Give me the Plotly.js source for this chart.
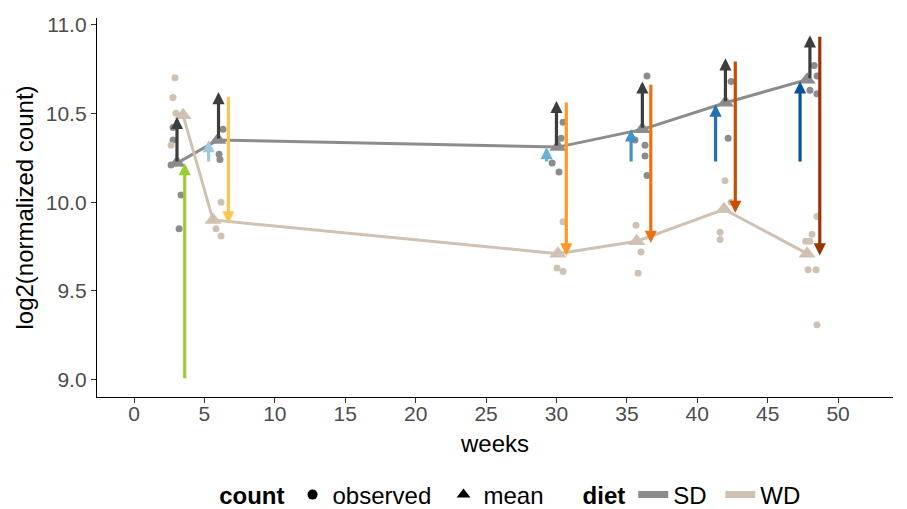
<!DOCTYPE html>
<html><head><meta charset="utf-8">
<script src="https://cdn.plot.ly/plotly-3.0.1.min.js"></script>
<style>html,body{margin:0;padding:0;background:#fff}#chart{width:907px;height:509px}</style>
</head><body><div id="chart"></div>
<script>
// ---- data ----
const sdMeanWeek = [3.05, 5.96, 30.1, 36.1, 42.0, 47.8];
const sdMeanVal  = [10.22, 10.35, 10.31, 10.41, 10.56, 10.69];
const wdMeanWeek = [3.48, 5.61, 30.1, 35.7, 41.9, 47.8];
const wdMeanVal  = [10.49, 9.90, 9.71, 9.78, 9.96, 9.71];

const sdObsWeek = [2.63, 2.77, 2.77, 3.34, 3.2, 6.32, 6.04, 6.1, 30.47, 30.33, 29.69, 30.18, 36.43, 35.58, 36.29, 36.29, 36.43, 42.4, 42.19, 48.3, 48.5, 48.0, 48.5];
const sdObsVal  = [10.21, 10.42, 10.35, 10.04, 9.85, 10.41, 10.27, 10.24, 10.45, 10.36, 10.22, 10.17, 10.71, 10.35, 10.32, 10.26, 10.15, 10.68, 10.36, 10.77, 10.71, 10.63, 10.61];
const wdObsWeek = [2.91, 2.77, 2.98, 2.63, 6.18, 5.82, 6.18, 30.47, 30.04, 30.47, 35.65, 36.0, 35.8, 41.97, 42.4, 41.62, 41.62, 48.5, 48.15, 47.7, 48.0, 47.87, 48.44, 48.5];
const wdObsVal  = [10.70, 10.59, 10.50, 10.32, 10.0, 9.85, 9.81, 9.89, 9.63, 9.61, 9.87, 9.72, 9.60, 10.12, 10.0, 9.83, 9.79, 9.92, 9.82, 9.78, 9.78, 9.62, 9.62, 9.31];

// dark arrows (SD increase)
const darkArrowWeek = [3.05, 6.0, 30.0, 36.1, 42.0, 48.0];
const darkArrowFrom = [10.22, 10.35, 10.31, 10.41, 10.56, 10.69];
const darkArrowTo   = [10.48, 10.62, 10.57, 10.68, 10.81, 10.94];
// baseline arrow
const baseArrowWeek = [3.6];
const baseArrowFrom = [9.0];
const baseArrowTo   = [10.22];
// blue arrows (from baseline SD mean)
const upArrowWeek = [5.3, 29.3, 35.3, 41.3, 47.3];
const upArrowFrom = [10.22, 10.22, 10.22, 10.22, 10.22];
const upArrowTo   = [10.35, 10.31, 10.41, 10.55, 10.68];
// orange arrows (down to WD mean)
const downArrowWeek = [6.7, 30.7, 36.7, 42.7, 48.7];
const downArrowFrom = [10.60, 10.57, 10.67, 10.80, 10.94];
const downArrowTo   = [9.88, 9.70, 9.77, 9.94, 9.70];

const xTickVals = [0, 5, 10, 15, 20, 25, 30, 35, 40, 45, 50];
const yTickVals = [9.0, 9.5, 10.0, 10.5, 11.0];
const yTickText = ['9.0', '9.5', '10.0', '10.5', '11.0'];

// ---- styles ----
const SD_COL = '#8c8c8c';
const WD_COL = '#cfc2b2';
const DARK_COL = '#3d3d3d';
const GREEN_COL = '#9acd32';
const BLUES = ['#9ecae1', '#6baed6', '#4292c6', '#2171b5', '#08519c'];
const ORANGES = ['#fec44f', '#fe9929', '#ec7014', '#cc4c02', '#993404'];
const FONT = 'Liberation Sans, Arial, sans-serif';

const traces = [
  {x: sdMeanWeek, y: sdMeanVal, mode: 'lines+markers', line: {color: SD_COL, width: 3},
   marker: {symbol: 'triangle-up', size: 15, color: SD_COL}, showlegend: false, hoverinfo: 'skip'},
  {x: wdMeanWeek, y: wdMeanVal, mode: 'lines+markers', line: {color: WD_COL, width: 3},
   marker: {symbol: 'triangle-up', size: 15, color: WD_COL}, showlegend: false, hoverinfo: 'skip'},
  {x: sdObsWeek, y: sdObsVal, mode: 'markers', marker: {size: 7, color: SD_COL}, showlegend: false},
  {x: wdObsWeek, y: wdObsVal, mode: 'markers', marker: {size: 7, color: WD_COL}, showlegend: false},
  // legend entries
  {x: [null], y: [null], mode: 'markers', name: 'observed', legend: 'legend',
   marker: {symbol: 'circle', size: 10, color: '#000'}},
  {x: [null], y: [null], mode: 'markers', name: 'mean', legend: 'legend',
   marker: {symbol: 'triangle-up', size: 12, color: '#000'}},
  {x: [null], y: [null], mode: 'lines', name: 'SD', legend: 'legend2',
   line: {color: SD_COL, width: 7}},
  {x: [null], y: [null], mode: 'lines', name: 'WD', legend: 'legend2',
   line: {color: WD_COL, width: 7}}
];

const annotations = [];
function addArrows(xs, from, to, colors) {
  for (let i = 0; i < xs.length; i++) {
    annotations.push({
      x: xs[i], y: to[i], ax: xs[i], ay: from[i], xref: 'x', yref: 'y', axref: 'x', ayref: 'y',
      text: '', showarrow: true, arrowhead: 2, arrowsize: 0.76, arrowwidth: 3.2,
      arrowcolor: Array.isArray(colors) ? colors[i] : colors, standoff: 0, startstandoff: 0
    });
  }
}
addArrows(darkArrowWeek, darkArrowFrom, darkArrowTo, DARK_COL);
addArrows(baseArrowWeek, baseArrowFrom, baseArrowTo, GREEN_COL);
addArrows(upArrowWeek, upArrowFrom, upArrowTo, BLUES);
addArrows(downArrowWeek, downArrowFrom, downArrowTo, ORANGES);

const layout = {
  width: 907, height: 509,
  margin: {l: 97, r: 14, t: 18, b: 112, autoexpand: false},
  paper_bgcolor: '#fff', plot_bgcolor: '#fff',
  font: {family: FONT, color: '#000'},
  xaxis: {
    range: [-2.63, 53.9], tickvals: xTickVals, ticks: 'outside', ticklen: 5, tickwidth: 1, tickcolor: '#333',
    showline: true, linecolor: '#000', linewidth: 1.2, showgrid: false, zeroline: false,
    tickfont: {size: 21, color: '#4d4d4d'}, automargin: false, ticklabelstandoff: -7,
    title: {text: 'weeks', font: {size: 24, color: '#000'}, standoff: 10}
  },
  yaxis: {
    range: [8.903, 11.037], tickvals: yTickVals, ticktext: yTickText, ticks: 'outside', ticklen: 5, tickwidth: 1, tickcolor: '#333',
    showline: true, linecolor: '#000', linewidth: 1.2, showgrid: false, zeroline: false,
    tickfont: {size: 21, color: '#4d4d4d'}, automargin: false,
    title: {text: 'log2(normalized count)', font: {size: 24, color: '#000'}, standoff: 5}
  },
  legend: {
    orientation: 'h', x: 0.151, y: -0.318, xanchor: 'left', yanchor: 'bottom',
    title: {text: '<b>count</b>', side: 'left', font: {size: 24}},
    font: {size: 24}, bgcolor: 'rgba(0,0,0,0)', entrywidth: 106
  },
  legend2: {
    orientation: 'h', x: 0.6075, y: -0.318, xanchor: 'left', yanchor: 'bottom',
    title: {text: '<b>diet</b>', side: 'left', font: {size: 24}},
    font: {size: 24}, bgcolor: 'rgba(0,0,0,0)', entrywidth: 42
  },
  annotations: annotations,
  showlegend: true
};

Plotly.newPlot('chart', traces, layout, {staticPlot: true, displayModeBar: false});
</script></body></html>
